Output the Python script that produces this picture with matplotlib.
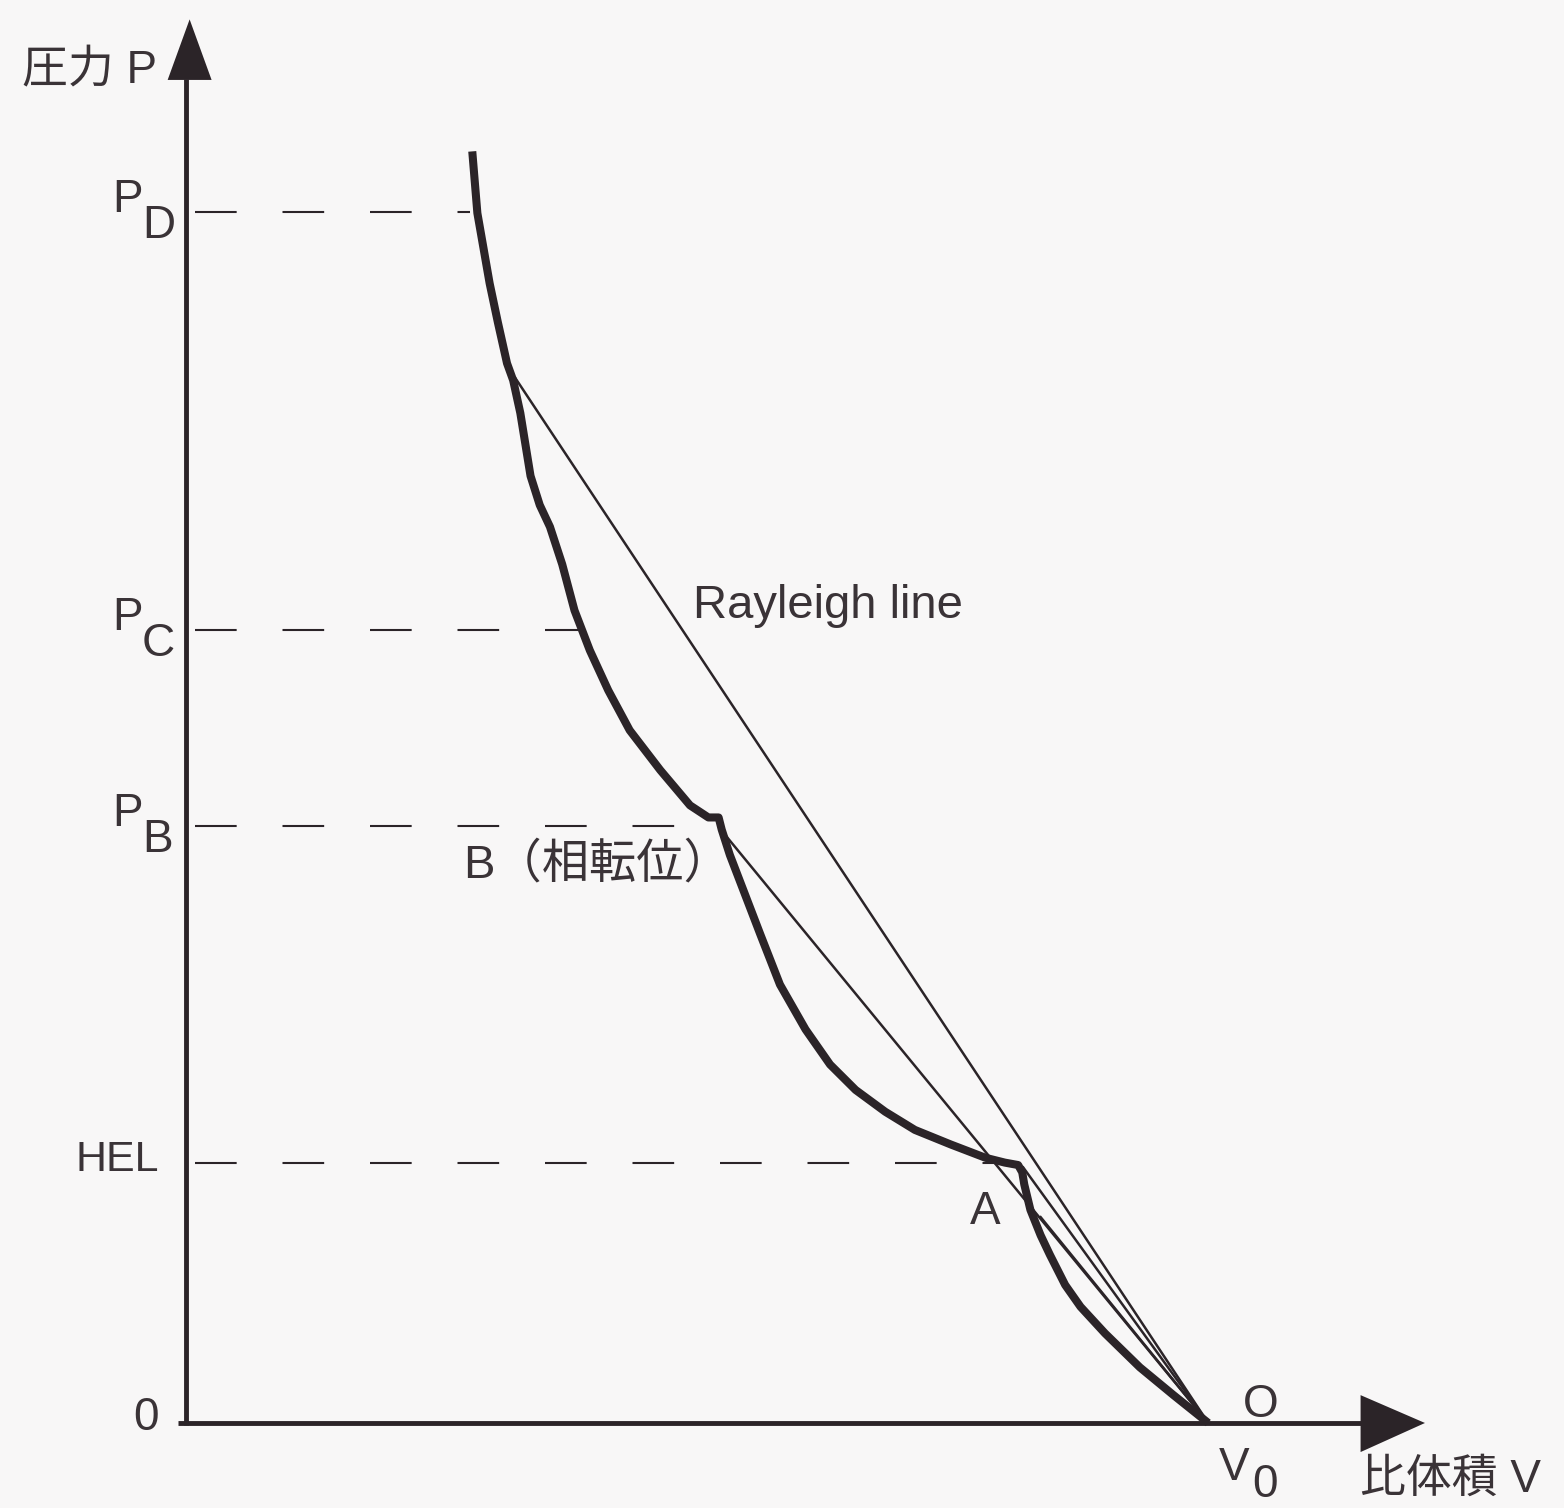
import matplotlib.pyplot as plt

plt.rcParams['font.family'] = ['Liberation Sans', 'Noto Sans CJK JP', 'DejaVu Sans']

# Hugoniot curve (V normalised so V0 = 1, P normalised so P_D = 1)
hug_v = [0.280, 0.285, 0.291, 0.297, 0.305, 0.314, 0.320, 0.327, 0.337, 0.346,
         0.356, 0.368, 0.380, 0.395, 0.413, 0.434, 0.464, 0.493, 0.511, 0.521,
         0.524, 0.532, 0.547, 0.562, 0.581, 0.606, 0.630, 0.655, 0.684, 0.713,
         0.748, 0.782, 0.801, 0.814, 0.818, 0.820, 0.826, 0.836, 0.845, 0.860,
         0.875, 0.899, 0.933, 0.966, 1.000]
hug_p = [1.050, 0.999, 0.970, 0.941, 0.909, 0.875, 0.861, 0.834, 0.782, 0.758,
         0.740, 0.709, 0.671, 0.638, 0.605, 0.572, 0.539, 0.510, 0.500, 0.500,
         0.490, 0.469, 0.436, 0.403, 0.362, 0.325, 0.296, 0.275, 0.257, 0.242,
         0.230, 0.219, 0.215, 0.213, 0.207, 0.197, 0.176, 0.155, 0.139, 0.114,
         0.096, 0.074, 0.046, 0.023, 0.000]

# Rayleigh lines: start points, all end at O (V0, 0)
ray_v = [0.322, 0.527, 0.819, 0.836]
ray_p = [0.863, 0.486, 0.211, 0.170]
v0 = 1.0

# pressure levels (dashed)
lev_names = ['D', 'C', 'B', 'HEL']
lev_p = [1.000, 0.655, 0.493, 0.215]
lev_vend = [0.278, 0.390, 0.518, 0.797]

ink = '#2b2428'
txt = '#3a3337'

fig = plt.figure(figsize=(15.64, 15.08), dpi=100)
fig.patch.set_facecolor('#f8f7f7')
ax = fig.add_axes([0, 0, 1, 1])
ax.set_facecolor('#f8f7f7')
ax.set_xlim(-0.182, 1.348)
ax.set_ylim(-0.0702, 1.175)
ax.axis('off')

# axes with arrow heads
ax.plot([0, 0], [-0.002, 1.11], color=ink, lw=3.5, solid_capstyle='butt')
ax.fill([-0.018, 0.025, 0.0035], [1.109, 1.109, 1.159], color=ink, lw=0)
ax.plot([-0.008, 1.15], [0, 0], color=ink, lw=3.5, solid_capstyle='butt')
ax.fill([1.149, 1.149, 1.212], [0.023, -0.024, 0.0], color=ink, lw=0)

# dashed levels
for p, ve in zip(lev_p, lev_vend):
    ax.plot([0.009, ve], [p, p], color=ink, lw=1.5, dashes=(20, 22))

# Rayleigh lines
for rv, rp in zip(ray_v, ray_p):
    ax.plot([rv, v0], [rp, 0], color=ink, lw=1.8)

# Hugoniot curve
ax.plot(hug_v, hug_p, color=ink, lw=5.8, solid_joinstyle='round', solid_capstyle='butt')

fs = 33
ax.text(-0.028, 1.116, '圧力 P', fontsize=fs, color=txt, ha='right', va='center')
for name, p in zip(lev_names[:3], lev_p[:3]):
    ax.text(-0.042, p + 0.010, 'P', fontsize=fs, color=txt, ha='right', va='center')
    ax.text(-0.043, p - 0.012, name, fontsize=fs, color=txt, ha='left', va='center')
ax.text(-0.026, lev_p[3] + 0.002, 'HEL', fontsize=fs - 2, color=txt, ha='right', va='center')
ax.text(-0.027, 0.004, '0', fontsize=fs, color=txt, ha='right', va='center')
ax.text(1.010, -0.037, 'V', fontsize=fs, color=txt, ha='left', va='center')
ax.text(1.043, -0.051, '0', fontsize=fs, color=txt, ha='left', va='center')
ax.text(1.034, 0.015, 'O', fontsize=fs, color=txt, ha='left', va='center')
ax.text(1.148, -0.047, '比体積 V', fontsize=fs, color=txt, ha='left', va='center')
ax.text(0.782, 0.174, 'A', fontsize=fs, color=txt, ha='center', va='center')
ax.text(0.271, 0.461, 'B（相転位）', fontsize=fs + 1, color=txt, ha='left', va='center')
ax.text(0.496, 0.675, 'Rayleigh line', fontsize=fs + 1, color=txt, ha='left', va='center')

plt.savefig('out.png', dpi=100, facecolor=fig.get_facecolor())
